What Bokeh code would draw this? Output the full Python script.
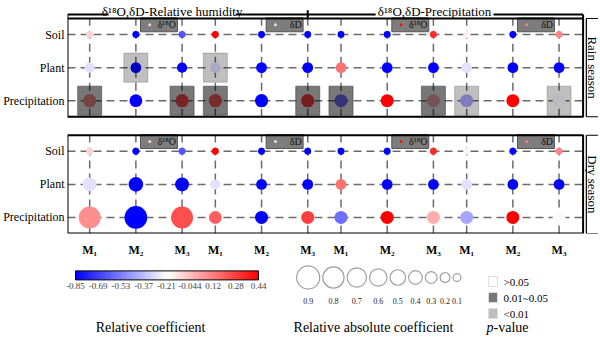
import math
from bokeh.plotting import figure
from bokeh.models import (ColumnDataSource, Range1d, FixedTicker, LinearColorMapper, ColorBar,
                          CustomJSTickFormatter, LinearInterpolator, AllLabels)
from bokeh.transform import transform
from bokeh.layouts import column
from bokeh.embed import file_html
from bokeh.resources import INLINE
from bokeh.core.properties import value

FONT = "Liberation Serif"

# ---------------- data ----------------
rows = ["Soil", "Plant", "Precipitation"]
members = ["M₁", "M₂", "M₃"]
groups = ["δ¹⁸O-Relative humidity", "δD-Relative humidity", "δ¹⁸O-Precipitation", "δD-Precipitation"]
group_tags = ["δ¹⁸O", "δD", "δ¹⁸O", "δD"]
group_tag_dot = [-0.08, -0.10, 0.40, 0.12]
headers = ["δ¹⁸O,δD-Relative humidity", "δ¹⁸O,δD-Precipitation"]
seasons = ["Rain season", "Dry season"]

# relative coefficient (colour), 12 columns = 4 groups x (M1, M2, M3)
rain_soil_r = [-0.09, -0.85, -0.64, 0.44, -0.85, -0.85, -0.85, -0.85, 0.33, -0.17, -0.85, 0.10]
rain_plant_r = [-0.28, -0.85, -0.85, -0.28, -0.85, -0.85, 0.15, -0.85, -0.85, -0.28, -0.85, -0.85]
rain_precip_r = [0.08, -0.85, 0.24, 0.20, -0.85, 0.28, -0.57, 0.44, 0.00, -0.43, 0.44, -0.22]
dry_soil_r = [-0.09, -0.85, -0.64, 0.44, -0.85, -0.85, -0.85, -0.85, 0.33, -0.17, -0.85, 0.10]
dry_plant_r = [-0.28, -0.85, -0.85, -0.28, -0.85, -0.85, 0.15, -0.85, -0.85, -0.28, -0.85, -0.85]
dry_precip_r = [0.08, -0.85, 0.24, 0.20, -0.85, 0.28, -0.57, 0.44, 0.00, -0.43, 0.44, -0.22]

# relative absolute coefficient (circle size)
rain_soil_abs = [0.05, 0.05, 0.05, 0.05, 0.05, 0.05, 0.05, 0.05, 0.05, 0.05, 0.05, 0.05]
rain_plant_abs = [0.22, 0.25, 0.22, 0.25, 0.25, 0.25, 0.25, 0.25, 0.25, 0.25, 0.25, 0.25]
rain_precip_abs = [0.38, 0.36, 0.38, 0.38, 0.38, 0.38, 0.37, 0.37, 0.37, 0.37, 0.37, 0.37]
dry_soil_abs = [0.05, 0.05, 0.05, 0.05, 0.05, 0.05, 0.05, 0.05, 0.05, 0.05, 0.05, 0.05]
dry_plant_abs = [0.42, 0.45, 0.42, 0.21, 0.25, 0.25, 0.25, 0.25, 0.25, 0.25, 0.25, 0.25]
dry_precip_abs = [0.84, 0.88, 0.84, 0.36, 0.37, 0.37, 0.37, 0.37, 0.37, 0.37, 0.37, 0.37]

# p-value class
rain_soil_p = [">0.05", ">0.05", ">0.05", ">0.05", ">0.05", ">0.05", ">0.05", ">0.05", ">0.05", ">0.05", ">0.05", ">0.05"]
rain_plant_p = [">0.05", "<0.01", ">0.05", "<0.01", ">0.05", ">0.05", ">0.05", ">0.05", ">0.05", ">0.05", ">0.05", ">0.05"]
rain_precip_p = ["0.01~0.05", ">0.05", "0.01~0.05", "0.01~0.05", ">0.05", "0.01~0.05", "0.01~0.05", ">0.05", "0.01~0.05", "<0.01", ">0.05", "<0.01"]
dry_soil_p = [">0.05", ">0.05", ">0.05", ">0.05", ">0.05", ">0.05", ">0.05", ">0.05", ">0.05", ">0.05", ">0.05", ">0.05"]
dry_plant_p = [">0.05", ">0.05", ">0.05", ">0.05", ">0.05", ">0.05", ">0.05", ">0.05", ">0.05", ">0.05", ">0.05", ">0.05"]
dry_precip_p = [">0.05", ">0.05", ">0.05", ">0.05", ">0.05", ">0.05", ">0.05", ">0.05", ">0.05", ">0.05", ">0.05", ">0.05"]

cb_ticks = [-0.85, -0.69, -0.53, -0.37, -0.21, -0.044, 0.12, 0.28, 0.44]
size_legend = [0.9, 0.8, 0.7, 0.6, 0.5, 0.4, 0.3, 0.2, 0.1]
p_legend = [">0.05", "0.01~0.05", "<0.01"]

# ---------------- scales ----------------
def bwr(n=256):
    out = []
    for i in range(n):
        t = i / (n - 1)
        if t < 0.5:
            c = int(round(255 * 2 * t))
            out.append("#%02x%02x%02x" % (c, c, 255))
        else:
            c = int(round(255 * (2 - 2 * t)))
            out.append("#%02x%02x%02x" % (255, c, c))
    return out

mapper = LinearColorMapper(palette=bwr(), low=cb_ticks[0], high=cb_ticks[-1])
sizer = LinearInterpolator(x=[0, 1], y=[6, 25])
P_ALPHA = {">0.05": 0.0, "0.01~0.05": 0.53, "<0.01": 0.25}

panel_data = {
    "Rain season": {"Soil": (rain_soil_r, rain_soil_abs, rain_soil_p),
                    "Plant": (rain_plant_r, rain_plant_abs, rain_plant_p),
                    "Precipitation": (rain_precip_r, rain_precip_abs, rain_precip_p)},
    "Dry season": {"Soil": (dry_soil_r, dry_soil_abs, dry_soil_p),
                   "Plant": (dry_plant_r, dry_plant_abs, dry_plant_p),
                   "Precipitation": (dry_precip_r, dry_precip_abs, dry_precip_p)},
}

# ---------------- layout (data units) ----------------
W, LEFT = 600, 67
GS = 2.72                      # distance between first columns of consecutive groups
col_x = [g * GS + m for g in range(len(groups)) for m in range(len(members))]
col_lab = [members[m] for g in range(len(groups)) for m in range(len(members))]
ROW_Y = {"Soil": 2, "Plant": 1, "Precipitation": 0}
BASE = {"Rain season": 3.53, "Dry season": 0.0}
PL, PR, PY = 0.48, 0.52, 0.485
box_l, box_r = col_x[0] - PL, col_x[-1] + PR
x_end = box_l + (W - LEFT) / 46.2
y_top = BASE["Rain season"] + 2 + PY + 0.545

cells = dict(x=[], y=[], r=[], a=[])
sq = dict(x=[], y=[], alpha=[])
for s in seasons:
    for row in rows:
        r, a, pv = panel_data[s][row]
        for i, x in enumerate(col_x):
            y = BASE[s] + ROW_Y[row]
            cells["x"].append(x); cells["y"].append(y)
            cells["r"].append(r[i]); cells["a"].append(a[i])
            if P_ALPHA[pv[i]] > 0:
                sq["x"].append(x); sq["y"].append(y); sq["alpha"].append(P_ALPHA[pv[i]])

p = figure(width=W, height=260, x_range=Range1d(box_l, x_end),
           y_range=Range1d(-PY, y_top), output_backend="svg", toolbar_location=None,
           min_border_left=LEFT, min_border_right=0, min_border_top=0, min_border_bottom=27)
p.grid.visible = False
p.outline_line_color = None

# dashed grid
g0x, g0y, g1x, g1y = [], [], [], []
for s in seasons:
    b = BASE[s]
    for row in rows:
        g0x.append(box_l); g1x.append(box_r)
        g0y.append(b + ROW_Y[row]); g1y.append(b + ROW_Y[row])
    for x in col_x:
        g0x.append(x); g1x.append(x); g0y.append(b - PY); g1y.append(b + 2 + PY)
p.segment(g0x, g0y, g1x, g1y, line_color="#6b6b6b", line_width=1.5, line_dash="8 5")

p.scatter("x", "y", source=ColumnDataSource(cells), size=transform("a", sizer),
          fill_color={"field": "r", "transform": mapper}, line_color=None)
p.rect("x", "y", width=0.52, height=0.88, source=ColumnDataSource(sq), fill_color="black",
       fill_alpha="alpha", line_color="#333333", line_alpha="alpha")

# gray tags
tag = dict(l=[], r=[], b=[], t=[], dx=[], ty=[], tx=[], txt=[], dv=[])
for s in seasons:
    top = BASE[s] + 2 + PY
    for g in range(len(groups)):
        tag["l"].append(g * GS + 1.1); tag["r"].append(g * GS + 1.9)
        tag["b"].append(top - 0.40); tag["t"].append(top + 0.02)
        tag["dx"].append(g * GS + 1.3); tag["tx"].append(g * GS + 1.87)
        tag["ty"].append(top - 0.19); tag["txt"].append(group_tags[g]); tag["dv"].append(group_tag_dot[g])
tsrc = ColumnDataSource(tag)
p.quad(left="l", right="r", bottom="b", top="t", source=tsrc, fill_color="#7d7d7d", line_color="#555555")
p.scatter("dx", "ty", source=tsrc, size=3, fill_color={"field": "dv", "transform": mapper}, line_color=None)
p.text("tx", "ty", text="txt", source=tsrc, text_align="right", text_baseline="middle",
       text_font=value(FONT), text_font_size="10px", text_color="#111111")

# panel boxes
p.quad(left=[box_l, box_l], right=[box_r, box_r],
       bottom=[BASE[s] - PY for s in seasons], top=[BASE[s] + 2 + PY for s in seasons],
       fill_color=None, line_color="black", line_width=2)

# season brackets
bx = box_r + 0.07
sx0, sy0, sx1, sy1 = [], [], [], []
for s in seasons:
    b0, b1 = BASE[s] - PY, BASE[s] + 2 + PY
    sx0 += [bx, bx, bx]; sx1 += [bx, bx + 0.25, bx + 0.25]
    sy0 += [b0, b0, b1]; sy1 += [b1, b0, b1]
p.segment(sx0, sy0, sx1, sy1, line_color="black", line_width=1.2)
p.text([box_r + 0.2] * 2, [BASE[s] + 1 for s in seasons], text=seasons, angle=-math.pi / 2,
       text_align="center", text_baseline="middle", text_font=value(FONT), text_font_size="13px",
       text_color="black")

# header brackets
rt = BASE["Rain season"] + 2 + PY
mid = col_x[5]
hl_y = rt + 0.12
gaps = [(0.41, 3.16), (6.19, 8.74)]
spans = [(box_l, mid), (mid, box_r)]
hx0, hy0, hx1, hy1 = [], [], [], []
for (a0, a1), (g0, g1) in zip(spans, gaps):
    hx0 += [a0, g1]; hx1 += [g0, a1]; hy0 += [hl_y, hl_y]; hy1 += [hl_y, hl_y]
hx0 += [box_l, mid, box_r]; hx1 += [box_l, mid, box_r]
hy0 += [rt, rt, rt]; hy1 += [hl_y, rt + 0.25, hl_y]
p.segment(hx0, hy0, hx1, hy1, line_color="black", line_width=2)
p.text([(g0 + g1) / 2 for g0, g1 in gaps], [rt + 0.2, rt + 0.2], text=headers,
       text_align="center", text_baseline="middle", text_font=value(FONT), text_font_size="13px",
       text_color="black")

NEAREST = """
let best = 0;
for (let i = 0; i < pos.length; i++) { if (Math.abs(pos[i] - tick) < Math.abs(pos[best] - tick)) best = i; }
return lab[best];
"""
ytick = [BASE[s] + ROW_Y[r] for s in seasons for r in rows]
ylab = [r for s in seasons for r in rows]
p.yaxis.ticker = FixedTicker(ticks=ytick)
p.yaxis.formatter = CustomJSTickFormatter(args=dict(pos=ytick, lab=ylab), code=NEAREST)
p.xaxis.ticker = FixedTicker(ticks=col_x)
p.xaxis.formatter = CustomJSTickFormatter(args=dict(pos=col_x, lab=col_lab), code=NEAREST)
for ax in (p.xaxis, p.yaxis):
    ax.axis_line_color = None
    ax.major_tick_line_color = None
    ax.minor_tick_line_color = None
    ax.major_tick_out = 0
    ax.major_tick_in = 0
    ax.minor_tick_out = 0
    ax.major_label_text_font = FONT
    ax.major_label_text_color = "black"
p.yaxis.major_label_text_font_size = "12px"
p.yaxis.major_label_standoff = 3
p.xaxis.major_label_text_font_size = "12px"
p.xaxis.major_label_text_font_style = "bold"
p.xaxis.major_label_standoff = 9

# ---------------- legend figure (1 data unit = 1 px) ----------------
LH = 80
lg = figure(width=W, height=LH, x_range=Range1d(LEFT, W), y_range=Range1d(0, LH),
            output_backend="svg", toolbar_location=None, min_border_left=LEFT, min_border_right=0,
            min_border_top=0, min_border_bottom=0, x_axis_location=None, y_axis_location=None)
lg.grid.visible = False
lg.outline_line_color = None

cb = ColorBar(color_mapper=mapper, orientation="horizontal", location=(8, 48.6), width=183, height=9,
              padding=0, ticker=FixedTicker(ticks=cb_ticks),
              formatter=CustomJSTickFormatter(code="return String(tick)"),
              major_label_policy=AllLabels(),
              major_label_text_font=FONT, major_label_text_font_size="9px", label_standoff=3,
              major_tick_line_color=None, minor_tick_line_color=None,
              bar_line_color="black", background_fill_alpha=0, border_line_color=None)
lg.add_layout(cb)

d0, d1 = sizer.y
diam = [d0 + (d1 - d0) * v for v in size_legend]
cxs = [307.7]
for i in range(1, len(diam)):
    cxs.append(cxs[-1] + (diam[i - 1] + diam[i]) / 2 + 3.1)
ls = ColumnDataSource(dict(x=cxs, y=[63] * len(cxs), v=size_legend, t=[str(v) for v in size_legend]))
lg.scatter("x", "y", source=ls, size=transform("v", sizer), fill_color=None, line_color="#a0a0a0", line_width=1.2)
lg.text("x", 40, text="t", source=ls, text_align="center", text_baseline="middle",
        text_font=value(FONT), text_font_size="8px", text_color="#222222")

pl = ColumnDataSource(dict(x=[492.5] * 3, y=[59, 43, 27], t=p_legend,
                           alpha=[P_ALPHA[k] for k in p_legend]))
lg.rect("x", "y", width=9, height=10, source=pl, fill_color="black", fill_alpha="alpha",
        line_color="#dddddd")
lg.text(503, "y", text="t", source=pl, text_baseline="middle", text_font=value(FONT),
        text_font_size="11px", text_color="black")

lg.text([150, 373], [13, 13], text=["Relative coefficient", "Relative absolute coefficient"],
        text_align="center", text_baseline="middle", text_font=value(FONT), text_font_size="14px",
        text_color="black")
lg.text([486], [13], text=["p"], text_baseline="middle", text_font=value(FONT), text_font_size="14px",
        text_font_style="italic", text_color="black")
lg.text([493], [13], text=["-value"], text_baseline="middle", text_font=value(FONT), text_font_size="14px",
        text_color="black")

layout = column(p, lg, spacing=0)
open("out.html", "w").write(file_html(layout, INLINE))
